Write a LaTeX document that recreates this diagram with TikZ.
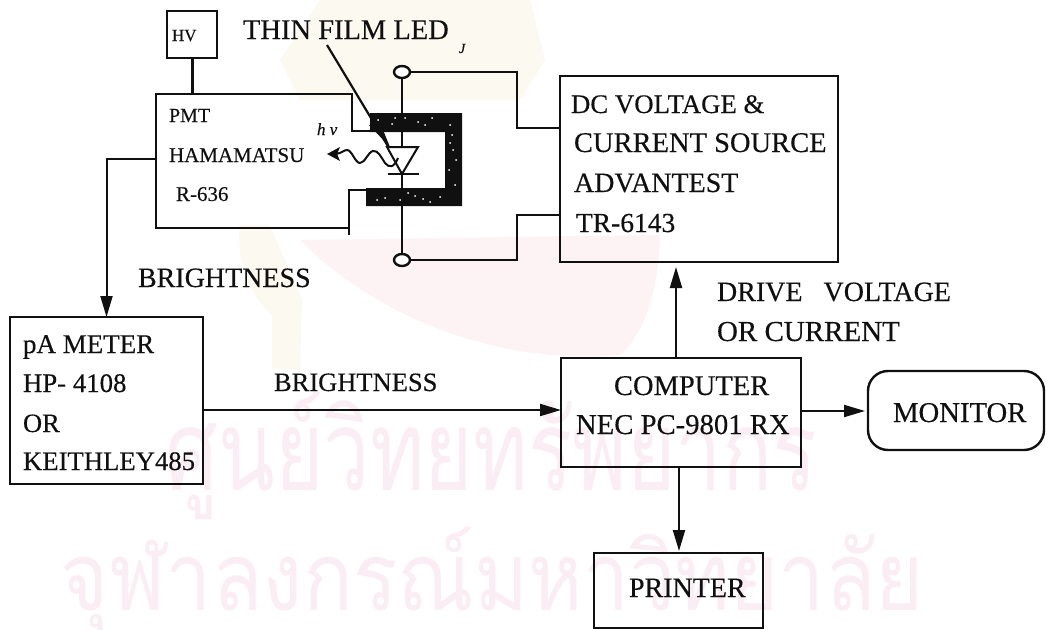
\documentclass[tikz,border=0pt]{standalone}
\usepackage{fontspec}
\usetikzlibrary{arrows.meta,shapes.geometric,calc}
\setmainfont[FakeBold=0.3]{Liberation Serif}
\newfontfamily\thaifont[Script=Thai]{Loma}
\definecolor{wmpink}{HTML}{FAEEF4}
\definecolor{wmred}{HTML}{FDF2F4}
\definecolor{wmtan}{HTML}{FCFAF0}
\definecolor{ink}{HTML}{101010}
\newcommand{\fs}[1]{\fontsize{#1}{#1}\selectfont}
\tikzset{
  x=1pt,y=-1pt,
  wire/.style={line width=2pt,draw=ink},
  blockbox/.style={draw=ink,line width=2.4pt,rectangle,inner sep=0pt,outer sep=0pt},
  flow/.style={wire,-{Triangle[length=21pt,width=12pt]}},
  lbl/.style={anchor=base west,inner sep=0pt,outer sep=0pt,text=ink},
  wm/.style={anchor=base,inner sep=0pt,text=wmpink,transform shape},
  terminal/.style={draw=ink,line width=2.4pt,ellipse,fill=white,minimum width=16pt,minimum height=12pt,inner sep=0pt,outer sep=0pt}
}
\begin{document}
\begin{tikzpicture}
\useasboundingbox (0,0) rectangle (1046,629);
\fill[white] (0,0) rectangle (1046,629);
% watermark crest
\fill[wmtan] (320,0) -- (530,0) -- (545,60) -- (520,100) -- (300,100) -- (280,60) -- cycle;
\fill[wmtan] (240,225) .. controls (235,270) and (255,300) .. (272,315) -- (272,368) -- (300,370) -- (302,300) -- (270,225) -- cycle;
\fill[wmred] (300,240) .. controls (380,320) and (500,365) .. (620,355) .. controls (650,330) and (660,270) .. (660,235) -- cycle;
% watermark text
\begin{scope}[xscale=.74]
\node[wm,font=\thaifont\fs{112}] (wmA) at (664,490) {ศูนย์วิทยทรัพยากร};
\end{scope}
\begin{scope}[xscale=.87]
\node[wm,font=\thaifont\fs{95}] (wmB) at (566,610) {จุฬาลงกรณ์มหาวิทยาลัย};
\end{scope}
% blocks
\node[blockbox,minimum width=50pt,minimum height=47pt] (hv) at (192,34.5) {};
\node[blockbox,minimum width=278pt,minimum height=186pt] (dc) at (699,169) {};
\node[blockbox,minimum width=193pt,minimum height=167pt] (pa) at (106.5,400.5) {};
\node[blockbox,minimum width=240pt,minimum height=109pt] (pc) at (681,412.5) {};
\node[blockbox,minimum width=176pt,minimum height=79pt,rounded corners=20pt] (mon) at (956,410.5) {};
\node[blockbox,minimum width=169pt,minimum height=75pt] (prn) at (678.5,590.5) {};
% PMT outline with its notches
\coordinate (pmtA) at (352,94);
\coordinate (pmtB) at (156,94);
\coordinate (pmtC) at (156,228);
\coordinate (pmtD) at (349,228);
\coordinate (pmtE) at (349,190);
\coordinate (pmtF) at (372,190);
\coordinate (pmtG) at (352,131);
\coordinate (pmtH) at (374,131);
\draw[wire,line width=2.4pt] (pmtD) -- (pmtC) -- (pmtB) -- (pmtA) -- (pmtG) -- (pmtH);
\draw[wire,line width=2.4pt] ($(pmtD)+(0,7)$) -- (pmtE) -- (pmtF);
\draw[wire,line width=3pt] (hv.south) -- (hv.south |- pmtB);
% LED holder
\fill[ink] (370,113) -- (462,113) -- (462,206) -- (366,206) -- (366,188) -- (445,188) -- (445,132) -- (370,132) -- cycle;
\fill[ink] (369,125) -- (383,130) -- (390,147) -- cycle;
\foreach \p in {(378,120),(392,124),(405,118),(418,122),(432,118),(450,125),(453,150),(449,170),(455,185),(385,198),(400,200),(415,196),(430,202),(377,200),(440,197),(452,135),(395,118),(425,125),(456,160),(450,143),(408,193),(423,199)}
  \fill[white] \p circle (1pt);
% terminals and LED wires
\node[terminal] (tt) at (402,72) {};
\node[terminal] (tb) at (402,260) {};
\coordinate (diodeTop) at (402,147);
\coordinate (diodeTip) at (402,174);
\draw[wire] (tt) -- (diodeTop);
\draw[wire] (diodeTip) -- (tb);
\coordinate (ttR) at (517,72);
\coordinate (ttD) at (517,128);
\coordinate (tbR) at (517,260);
\coordinate (tbD) at (517,215);
\draw[wire] (tt.east) -- (ttR) -- (ttD) -- (ttD -| dc.west);
\draw[wire] (tb.east) -- (tbR) -- (tbD) -- (tbD -| dc.west);
% diode
\draw[wire,line join=miter] (387,147) -- (418,147) -- (diodeTip) -- cycle;
\draw[wire,line width=2.6pt] (388,174) -- (419,174);
% pointer to LED
\coordinate (ptrA) at (327,45);
\coordinate (ptrB) at (389,148);
\draw[wire,line width=2.2pt] (ptrA) -- (ptrB);
% light wave
\coordinate (waveEnd) at (327,154);
\draw[wire,line join=round] (398,158) .. controls (394,168) and (389,168) .. (385,163) .. controls (381,157) and (378,150) .. (373,151) .. controls (368,152) and (365,163) .. (360,163) .. controls (355,163) and (352,150) .. (347,150) .. controls (344,150) and (342,153) .. (336,154);
\fill[ink] (waveEnd) -- (340,147) -- (337,154) -- (340,161) -- cycle;
% connectors
\coordinate (pmtOut) at (156,159);
\draw[flow] (pmtOut) -- (pa.north |- pmtOut) -- (pa.north);
\draw[flow] (pa.east |- 0,410) -- (pc.west |- 0,410);
\draw[flow] (676,358) -- (676,267);
\draw[flow] (pc.east |- 0,411) -- (865,411);
\draw[flow] (679,467) -- (679,551);
% labels
\node[lbl,font=\fs{17}] (tHV) at (172,41) {HV};
\node[lbl,font=\fs{28.5}] (tLED) at (243,39) {THIN FILM LED};
\node[lbl,font=\itshape\fs{14}] (tJ) at (459,53) {J};
\node[lbl,font=\fs{20}] (tPMT) at (169,122) {PMT};
\node[lbl,font=\fs{21}] (tHam) at (169,162) {HAMAMATSU};
\node[lbl,font=\fs{21}] (tR) at (176,201) {R-636};
\node[lbl,font=\itshape\fs{17}] (thv) at (317,135) {h v};
\node[lbl,font=\fs{28}] (tB1) at (138,287) {BRIGHTNESS};
\node[lbl,font=\fs{26.5}] (tB2) at (274,391) {BRIGHTNESS};
\node[lbl,font=\fs{26.8}] (d1) at (571,113) {DC VOLTAGE \&};
\node[lbl,font=\fs{28.5}] (d2) at (574,152) {CURRENT SOURCE};
\node[lbl,font=\fs{28}] (d3) at (574,192) {ADVANTEST};
\node[lbl,font=\fs{27.5}] (d4) at (576,232) {TR-6143};
\node[lbl,font=\fs{28}] (r1) at (717,301) {DRIVE\ \ \ VOLTAGE};
\node[lbl,font=\fs{29}] (r2) at (717,341) {OR CURRENT};
\node[lbl,font=\fs{27}] (p1) at (23,353) {pA METER};
\node[lbl,font=\fs{26.8}] (p2) at (23,392) {HP- 4108};
\node[lbl,font=\fs{26.5}] (p3) at (23,432) {OR};
\node[lbl,font=\fs{26.7}] (p4) at (23,470) {KEITHLEY485};
\node[lbl,font=\fs{28.5}] (c1) at (614,395) {COMPUTER};
\node[lbl,font=\fs{28.7}] (c2) at (576,434) {NEC PC-9801 RX};
\node[lbl,font=\fs{28.7}] (m1) at (893,422) {MONITOR};
\node[lbl,font=\fs{28}] (pr1) at (629,597) {PRINTER};
\end{tikzpicture}
\end{document}
